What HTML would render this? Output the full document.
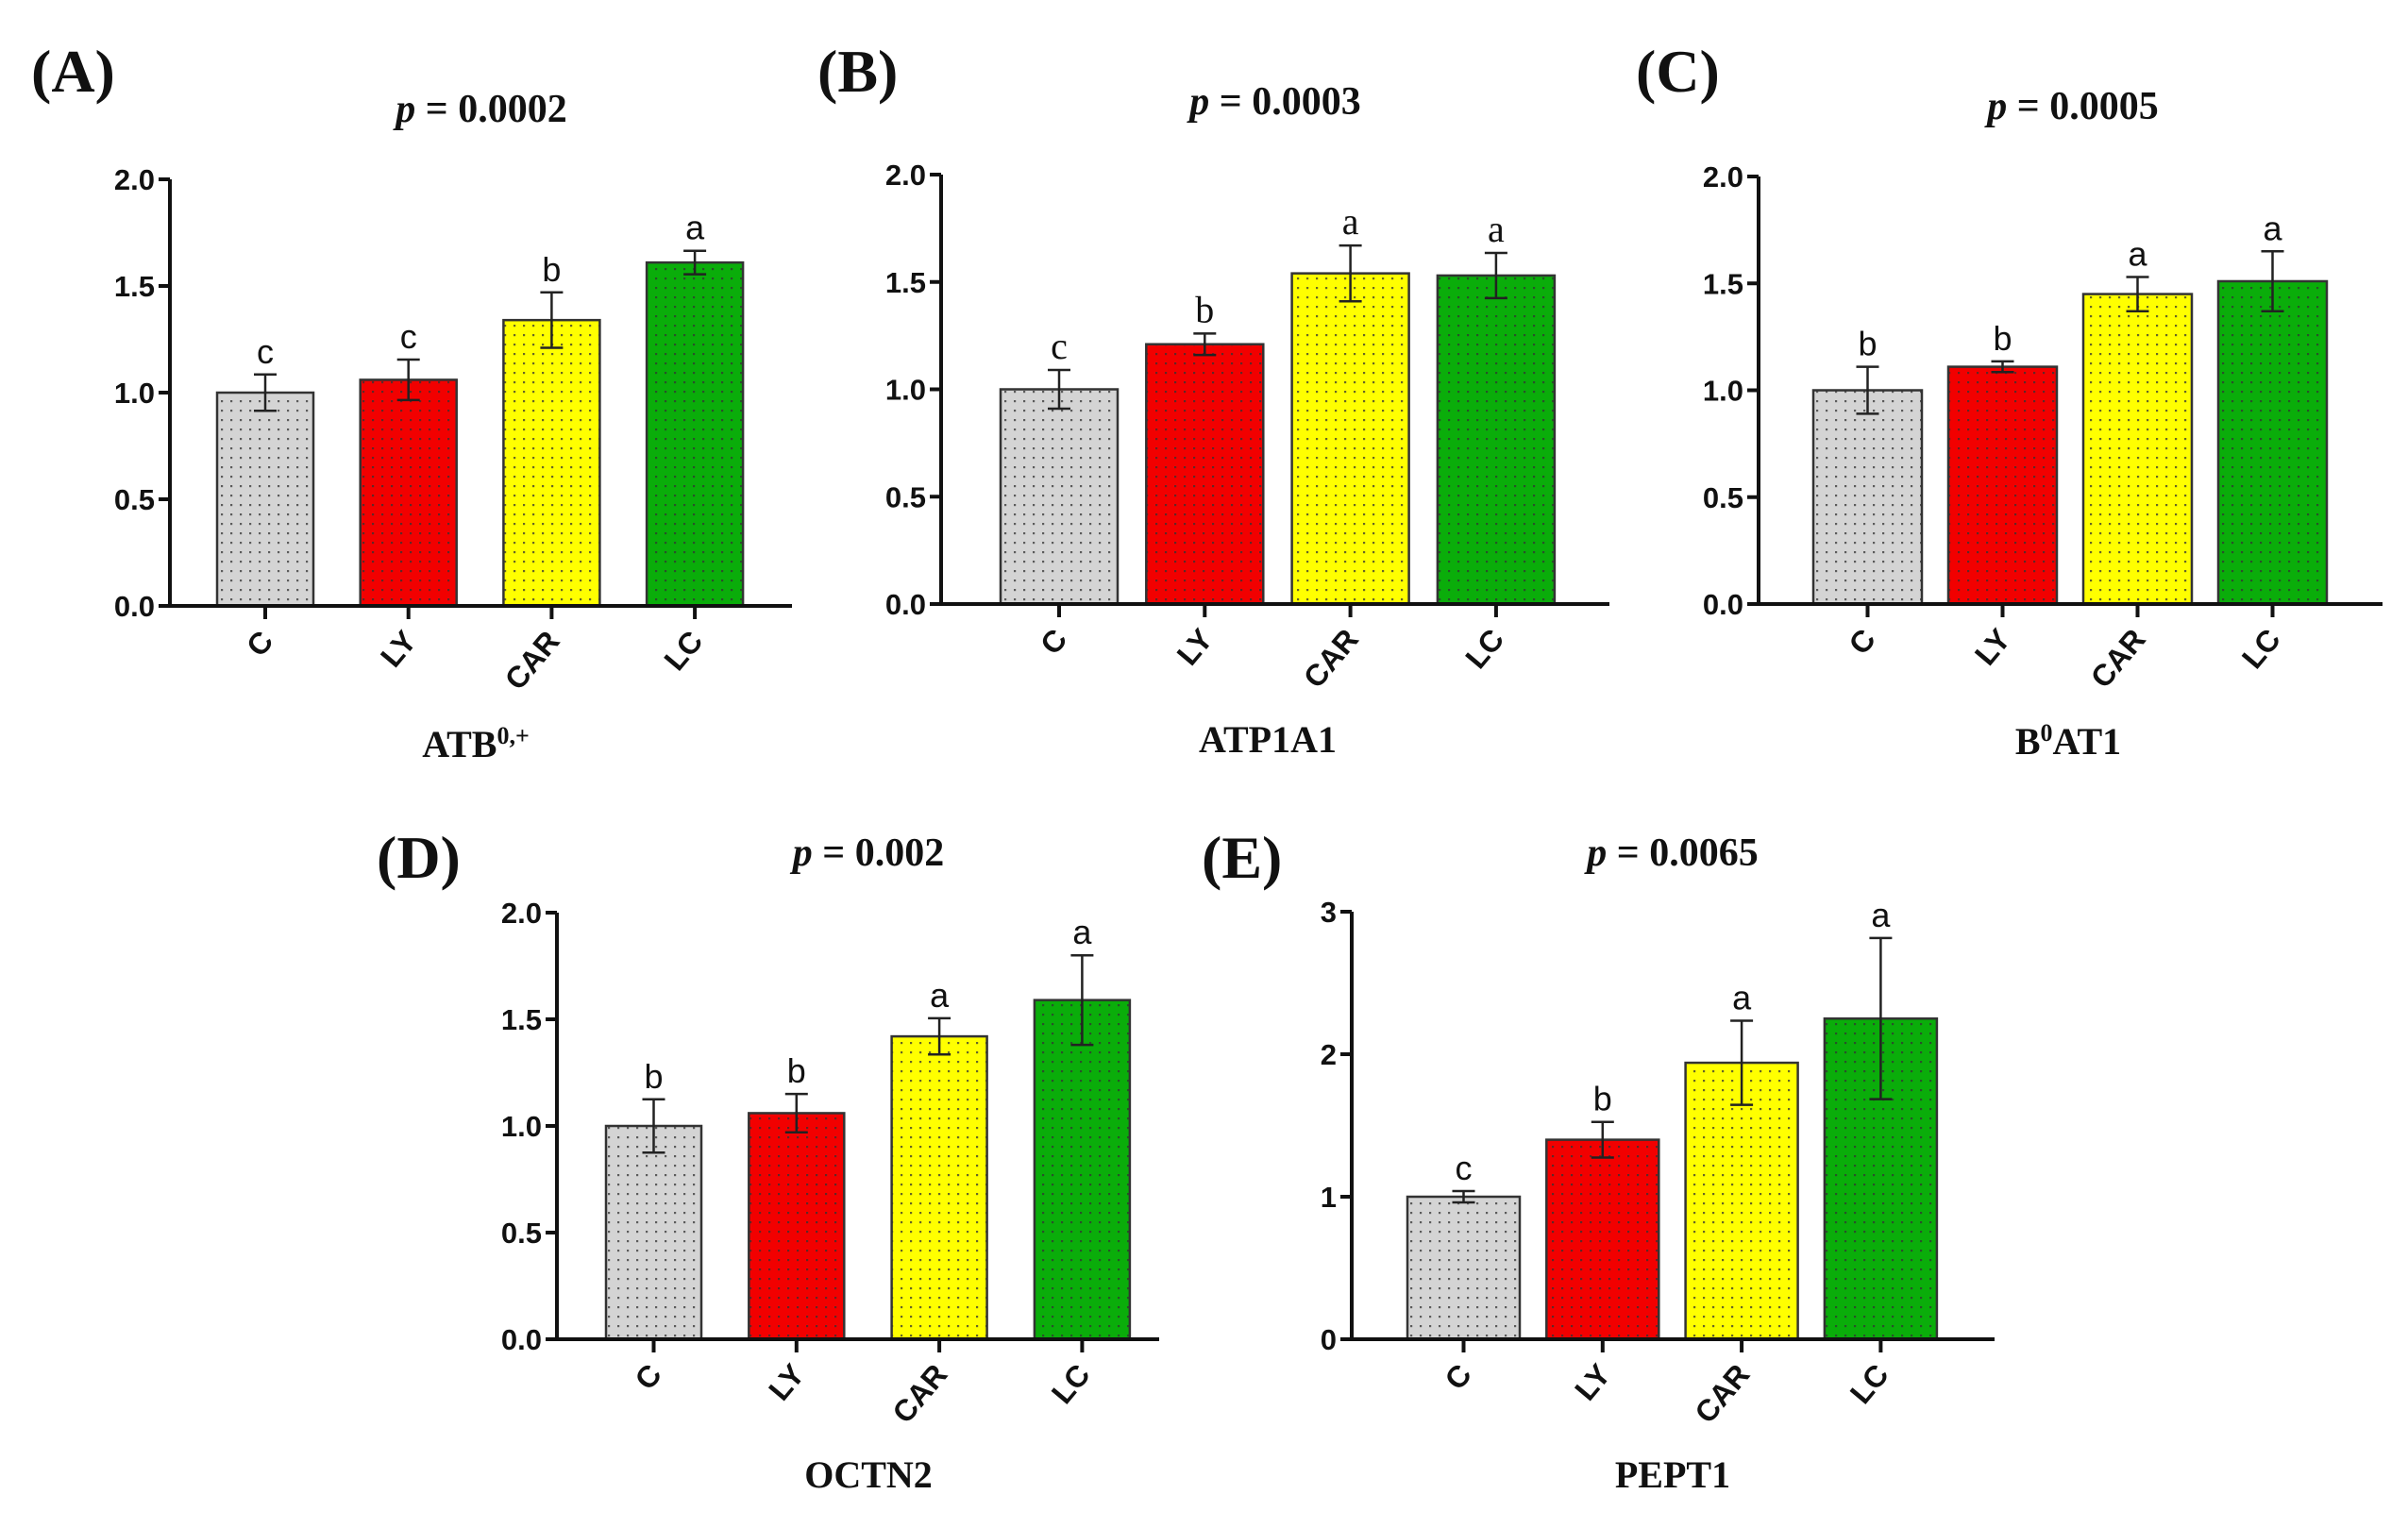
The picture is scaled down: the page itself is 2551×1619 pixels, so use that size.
<!DOCTYPE html>
<html><head><meta charset="utf-8">
<style>
html,body{margin:0;padding:0;background:#fff;}
svg{display:block;}
.tick{font-family:"Liberation Sans",sans-serif;font-weight:bold;font-size:31px;fill:#111;}
.cat{font-family:"Liberation Sans",sans-serif;font-weight:bold;font-size:32px;fill:#111;}
.sig{font-family:"Liberation Sans",sans-serif;font-size:36px;fill:#111;}
.sigs{font-family:"Liberation Serif",serif;font-size:40px;fill:#111;}
.ptitle{font-family:"Liberation Serif",serif;font-weight:bold;font-size:42px;fill:#111;}
.plabel{font-family:"Liberation Serif",serif;font-weight:bold;font-size:64px;fill:#111;}
.gene{font-family:"Liberation Serif",serif;font-weight:bold;font-size:40px;fill:#111;}
</style></head>
<body>
<svg id="fig" width="2551" height="1619" viewBox="0 0 2551 1619" xmlns="http://www.w3.org/2000/svg">
<defs>
<pattern id="dots" width="10" height="10" patternUnits="userSpaceOnUse">
<rect x="4" y="4" width="2.2" height="2.2" fill="#333" opacity="0.75"/>
</pattern>
</defs>
</svg>
<script>
const categories = ["C","LY","CAR","LC"];
const colors = ["#d4d4d4","#f20000","#ffff00","#0aad0a"];

const valuesA = [1.00,1.06,1.34,1.61];
const errorsA = [0.085,0.095,0.13,0.055];
const lettersA = ["c","c","b","a"];
const ticksA = ["0.0","0.5","1.0","1.5","2.0"];

const valuesB = [1.00,1.21,1.54,1.53];
const errorsB = [0.09,0.05,0.13,0.105];
const lettersB = ["c","b","a","a"];
const ticksB = ["0.0","0.5","1.0","1.5","2.0"];

const valuesC = [1.00,1.11,1.45,1.51];
const errorsC = [0.11,0.025,0.08,0.14];
const lettersC = ["b","b","a","a"];
const ticksC = ["0.0","0.5","1.0","1.5","2.0"];

const valuesD = [1.00,1.06,1.42,1.59];
const errorsD = [0.125,0.09,0.085,0.21];
const lettersD = ["b","b","a","a"];
const ticksD = ["0.0","0.5","1.0","1.5","2.0"];

const valuesE = [1.00,1.40,1.94,2.25];
const errorsE = [0.04,0.125,0.295,0.565];
const lettersE = ["c","b","a","a"];
const ticksE = ["0","1","2","3"];

const NS = "http://www.w3.org/2000/svg";
const svg = document.getElementById("fig");
function mk(tag, attrs, parent){
  const e = document.createElementNS(NS, tag);
  for (const k in attrs) e.setAttribute(k, attrs[k]);
  (parent||svg).appendChild(e);
  return e;
}

function panel(cfg){
  const g = mk("g",{});
  
  
  const ymax = cfg.ymax;
  const yScale = v => cfg.y0 - (v/ymax)*(cfg.y0-cfg.yTop);
  const pl = mk("text",{x:cfg.labelX,y:cfg.labelY,class:"plabel"},g);
  pl.textContent = "(" + cfg.id + ")";
  
  
  const pt = mk("text",{x:cfg.pX,y:cfg.pY,class:"ptitle","text-anchor":"middle"},g);
  
  
  const ip = mk("tspan",{"font-style":"italic"},pt); ip.textContent = "p";
  const rest = mk("tspan",{},pt); rest.textContent = " = " + cfg.p;
  const n = cfg.vals.length;
  for (let i=0;i<n;i++){
    const x0 = cfg.barX0 + i*cfg.barStep;
    const top = yScale(cfg.vals[i]);
    const cx = x0 + cfg.barW/2;
    const r = mk("rect",{x:x0,y:top,width:cfg.barW,height:cfg.y0-top,fill:colors[i],stroke:"#333","stroke-width":2.5},g);
    
    
    mk("rect",{x:x0+1,y:top+1,width:cfg.barW-2,height:Math.max(0,cfg.y0-top-2),fill:"url(#dots)"},g);
    const eh = yScale(cfg.vals[i]+cfg.errs[i]), el = yScale(cfg.vals[i]-cfg.errs[i]);
    const eb = mk("path",{d:`M${cx},${eh}V${el}M${cx-12},${eh}H${cx+12}M${cx-12},${el}H${cx+12}`,stroke:"#222","stroke-width":2.5,fill:"none"},g);
    
    
    const lt = mk("text",{x:cx,y:eh-12,class:cfg.serifLetters?"sigs":"sig","text-anchor":"middle"},g);
    lt.textContent = cfg.letters[i];
    
    
    mk("line",{x1:cx,y1:cfg.y0,x2:cx,y2:cfg.y0+14,stroke:"#111","stroke-width":4},g);
    const ct = mk("text",{x:0,y:0,class:"cat","text-anchor":"end",transform:`translate(${cx+10},${cfg.y0+38}) rotate(-50)`},g);
    ct.textContent = categories[i];
    
    
  }
  const ya = mk("line",{x1:cfg.axisX,y1:cfg.yTop,x2:cfg.axisX,y2:cfg.y0+2,stroke:"#111","stroke-width":4},g);
  
  
  const xa = mk("line",{x1:cfg.axisX-12,y1:cfg.y0,x2:cfg.axisEnd,y2:cfg.y0,stroke:"#111","stroke-width":4},g);
  
  
  const nt = cfg.ticks.length;
  for (let j=0;j<nt;j++){
    const v = ymax*j/(nt-1);
    const y = yScale(v);
    mk("line",{x1:cfg.axisX-12,y1:y,x2:cfg.axisX,y2:y,stroke:"#111","stroke-width":4},g);
    const t = mk("text",{x:cfg.axisX-16,y:y+11,class:"tick","text-anchor":"end"},g);
    t.textContent = cfg.ticks[j];
    
    
  }
  const gn = mk("text",{x:cfg.geneX,y:cfg.geneY,class:"gene","text-anchor":"middle"},g);
  
  
  const parts = cfg.gene;
  const a = mk("tspan",{},gn); a.textContent = parts[0];
  if (parts[1]){ const s = mk("tspan",{"font-size":"26px",dy:-14},gn); s.textContent = parts[1]; }
  if (parts[2]){ const c = mk("tspan",{dy:14},gn); c.textContent = parts[2]; }
}

panel({id:"A",vals:valuesA,errs:errorsA,letters:lettersA,ticks:ticksA,ymax:2,
  axisX:180,y0:642,yTop:190,barX0:230,barW:102,barStep:151.7,axisEnd:839,
  labelX:33,labelY:97,pX:510,pY:129,p:"0.0002",geneX:504,geneY:802,gene:["ATB","0,+",""]});
panel({id:"B",vals:valuesB,errs:errorsB,letters:lettersB,ticks:ticksB,ymax:2,serifLetters:true,
  axisX:997,y0:640,yTop:185,barX0:1060,barW:124,barStep:154.3,axisEnd:1705,
  labelX:866,labelY:97,pX:1351,pY:121,p:"0.0003",geneX:1343,geneY:797,gene:["ATP1A1","",""]});
panel({id:"C",vals:valuesC,errs:errorsC,letters:lettersC,ticks:ticksC,ymax:2,
  axisX:1863,y0:640,yTop:187,barX0:1921,barW:115,barStep:143,axisEnd:2524,
  labelX:1733,labelY:97,pX:2196,pY:126,p:"0.0005",geneX:2191,geneY:799,gene:["B","0","AT1"]});
panel({id:"D",vals:valuesD,errs:errorsD,letters:lettersD,ticks:ticksD,ymax:2,
  axisX:590,y0:1419,yTop:967,barX0:642,barW:101,barStep:151.3,axisEnd:1228,
  labelX:399,labelY:930,pX:920,pY:917,p:"0.002",geneX:920,geneY:1576,gene:["OCTN2","",""]});
panel({id:"E",vals:valuesE,errs:errorsE,letters:lettersE,ticks:ticksE,ymax:3,
  axisX:1432,y0:1419,yTop:966,barX0:1491,barW:119,barStep:147.3,axisEnd:2113,
  labelX:1273,labelY:930,pX:1772,pY:917,p:"0.0065",geneX:1772,geneY:1576,gene:["PEPT1","",""]});
</script>
</body></html>
